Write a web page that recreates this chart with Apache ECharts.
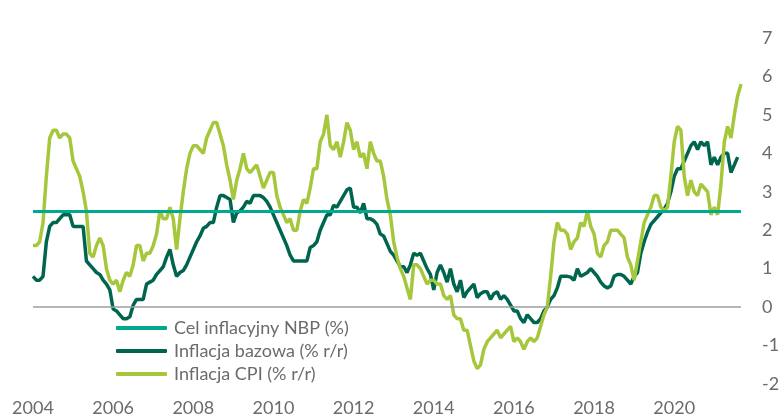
<!DOCTYPE html>
<meta charset="utf-8">
<html style="height: 100%">
<head>
    <title>Inflacja w Polsce</title>
    <script src="https://cdn.jsdelivr.net/npm/echarts@6/dist/echarts.min.js"></script>
</head>
<body style="height: 100%; margin: 0; background: #fff">

<div id="container" style="width: 783px; height: 418px"></div>

<script type="text/javascript">

    // monthly data, Jan 2004 - Sep 2021 (core ends Aug 2021)
    let firstYear = 2004
    let lastYear = 2021
    let lastMonth = 9

    // NBP target (%)
    let target = 2.5

    // CPI, % r/r
    let cpi = [
        1.6, 1.6, 1.7, 2.2, 3.4, 4.4, 4.6, 4.6, 4.4, 4.5, 4.5, 4.4,         // 2004
        3.8, 3.6, 3.4, 3.0, 2.5, 1.4, 1.3, 1.6, 1.8, 1.6, 1.0, 0.7,         // 2005
        0.6, 0.7, 0.4, 0.7, 0.9, 0.8, 1.1, 1.6, 1.6, 1.2, 1.4, 1.4,         // 2006
        1.6, 1.9, 2.5, 2.3, 2.3, 2.6, 2.3, 1.5, 2.3, 3.0, 3.6, 4.0,         // 2007
        4.2, 4.2, 4.1, 4.0, 4.4, 4.6, 4.8, 4.8, 4.5, 4.2, 3.7, 3.3,         // 2008
        2.8, 3.3, 3.6, 4.0, 3.6, 3.5, 3.6, 3.7, 3.4, 3.1, 3.3, 3.5,         // 2009
        3.5, 2.9, 2.6, 2.4, 2.2, 2.3, 2.0, 2.0, 2.5, 2.8, 2.7, 3.1,         // 2010
        3.6, 3.6, 4.3, 4.5, 5.0, 4.2, 4.1, 4.3, 3.9, 4.3, 4.8, 4.6,         // 2011
        4.1, 4.3, 3.9, 4.0, 3.6, 4.3, 4.0, 3.8, 3.8, 3.4, 2.8, 2.4,         // 2012
        1.7, 1.3, 1.0, 0.8, 0.5, 0.2, 1.1, 1.1, 1.0, 0.8, 0.6, 0.7,         // 2013
        0.7, 0.6, 0.6, 0.3, 0.2, 0.3, -0.2, -0.3, -0.3, -0.6, -0.6, -1.0,   // 2014
        -1.4, -1.6, -1.5, -1.1, -0.9, -0.8, -0.7, -0.6, -0.8, -0.7, -0.6, -0.5, // 2015
        -0.9, -0.8, -0.9, -1.1, -0.9, -0.8, -0.9, -0.8, -0.5, -0.2, 0.0, 0.8,   // 2016
        1.7, 2.2, 2.0, 2.0, 1.9, 1.5, 1.7, 1.8, 2.2, 2.1, 2.5, 2.1,         // 2017
        1.9, 1.4, 1.3, 1.6, 1.7, 2.0, 2.0, 2.0, 1.9, 1.8, 1.3, 1.1,         // 2018
        0.7, 1.2, 1.7, 2.2, 2.4, 2.6, 2.9, 2.9, 2.6, 2.5, 2.6, 3.4,         // 2019
        4.3, 4.7, 4.6, 3.4, 2.9, 3.3, 3.0, 2.9, 3.2, 3.1, 3.0, 2.4,         // 2020
        2.6, 2.4, 3.2, 4.3, 4.7, 4.4, 5.0, 5.5, 5.8                         // 2021
    ]

    // core inflation, % r/r
    let core = [
        0.8, 0.7, 0.7, 0.8, 1.7, 2.1, 2.2, 2.2, 2.3, 2.4, 2.4, 2.4,         // 2004
        2.1, 2.1, 2.1, 2.1, 1.2, 1.1, 1.0, 0.9, 0.85, 0.7, 0.6, 0.45,       // 2005
        -0.05, -0.1, -0.2, -0.3, -0.3, -0.25, 0.05, 0.2, 0.2, 0.2, 0.6, 0.65, // 2006
        0.7, 0.85, 0.95, 1.05, 1.3, 1.5, 1.1, 0.8, 0.9, 0.95, 1.1, 1.3,     // 2007
        1.5, 1.7, 1.85, 2.05, 2.1, 2.2, 2.2, 2.6, 2.9, 2.9, 2.85, 2.8,      // 2008
        2.2, 2.45, 2.5, 2.6, 2.75, 2.7, 2.9, 2.9, 2.9, 2.85, 2.75, 2.6,     // 2009
        2.4, 2.2, 2.0, 1.8, 1.6, 1.35, 1.2, 1.2, 1.2, 1.2, 1.2, 1.55,       // 2010
        1.6, 1.7, 2.0, 2.2, 2.4, 2.4, 2.65, 2.6, 2.75, 2.9, 3.05, 3.1,      // 2011
        2.6, 2.6, 2.45, 2.7, 2.3, 2.3, 2.25, 2.15, 1.9, 1.85, 1.65, 1.45,   // 2012
        1.35, 1.2, 1.05, 1.05, 0.9, 1.1, 1.4, 1.35, 1.4, 1.2, 1.0, 0.85,    // 2013
        0.45, 0.9, 1.1, 0.9, 0.65, 1.0, 0.6, 0.4, 0.7, 0.25, 0.4, 0.5,      // 2014
        0.6, 0.25, 0.35, 0.4, 0.4, 0.2, 0.35, 0.4, 0.2, 0.3, 0.2, 0.05,     // 2015
        -0.1, -0.1, -0.3, -0.4, -0.2, -0.3, -0.4, -0.4, -0.3, -0.1, 0.0, 0.2, // 2016
        0.3, 0.5, 0.8, 0.8, 0.8, 0.78, 0.7, 1.0, 0.8, 0.85, 0.9, 1.0,       // 2017
        0.9, 0.8, 0.65, 0.55, 0.5, 0.55, 0.8, 0.85, 0.85, 0.8, 0.7, 0.6,    // 2018
        0.8, 0.9, 1.4, 1.7, 1.95, 2.15, 2.25, 2.35, 2.45, 2.55, 2.7, 3.0,   // 2019
        3.4, 3.6, 3.6, 3.8, 4.0, 4.2, 4.3, 4.1, 4.3, 4.2, 4.3, 3.7,         // 2020
        3.9, 3.7, 3.9, 4.0, 4.0, 3.5, 3.7, 3.9                              // 2021
    ]

    // y axis ticks
    let yMin = -2
    let yMax = 7

    let names = ['Cel inflacyjny NBP (%)', 'Inflacja bazowa (% r/r)', 'Inflacja CPI (% r/r)']
    let colors = ['#00A98F', '#00654F', '#A6C73C']

    // month categories
    let months = []
    for (let y = firstYear; y <= lastYear; y++) {
        for (let m = 1; m <= 12; m++) {
            if (y === lastYear && m > lastMonth) break
            months.push(y + '-' + (m < 10 ? '0' + m : m))
        }
    }

    let fontName = 'Lato'
    let textColor = '#6b6b6b'

    let chart = echarts.init(document.getElementById('container'))

    chart.setOption({
        animation: false,
        color: colors,
        grid: {left: 33, right: 42, top: 38, bottom: 34, containLabel: false},
        legend: {
            orient: 'vertical',
            left: 111,
            top: 313,
            padding: 5,
            itemWidth: 51,
            itemHeight: 4,
            itemGap: 3,
            icon: 'roundRect',
            data: names,
            textStyle: {fontFamily: fontName, fontSize: 18, color: textColor, lineHeight: 20, padding: [0, 0, 0, 2]}
        },
        xAxis: {
            type: 'category',
            boundaryGap: false,
            data: months,
            axisLine: {show: false},
            axisTick: {show: false},
            splitLine: {show: false},
            axisLabel: {
                interval: function (i) { return i % 24 === 0 },
                formatter: function (v) { return v.slice(0, 4) },
                fontFamily: fontName, fontSize: 18, color: textColor, margin: 15
            }
        },
        yAxis: {
            type: 'value',
            position: 'right',
            min: yMin, max: yMax, interval: 1,
            axisLine: {show: false},
            axisTick: {show: false},
            splitLine: {show: false},
            axisLabel: {fontFamily: fontName, fontSize: 18, color: textColor, margin: 21}
        },
        series: [
            {
                name: names[0],
                type: 'line',
                data: [],
                lineStyle: {width: 3},
                markLine: {
                    silent: true, symbol: 'none', label: {show: false},
                    lineStyle: {color: colors[0], width: 3, type: 'solid'},
                    data: [{yAxis: target}]
                }
            },
            {
                name: names[1],
                type: 'line',
                data: core,
                showSymbol: false,
                lineStyle: {width: 3.5},
                markLine: {
                    silent: true, symbol: 'none', label: {show: false},
                    lineStyle: {color: '#9e9e9e', width: 1.5, type: 'solid'},
                    data: [{yAxis: 0}]
                }
            },
            {
                name: names[2],
                type: 'line',
                data: cpi,
                showSymbol: false,
                lineStyle: {width: 3.5}
            }
        ]
    })

</script>
</body>
</html>
